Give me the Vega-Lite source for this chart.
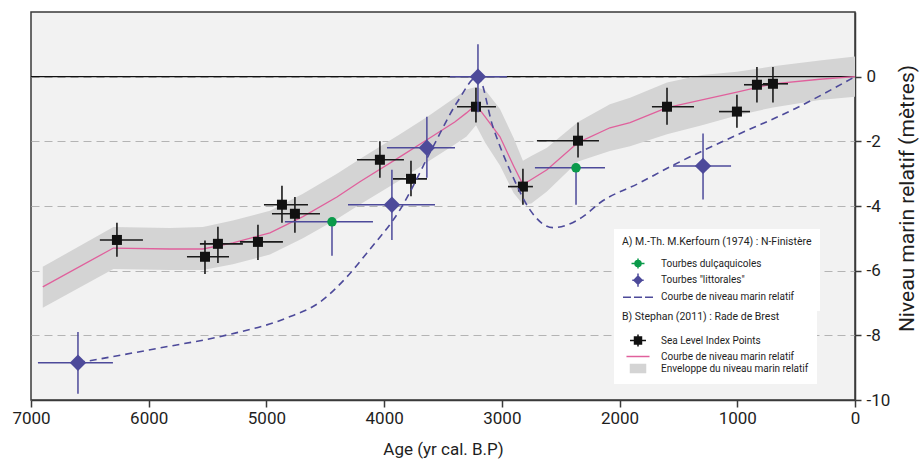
{
  "$schema": "https://vega.github.io/schema/vega-lite/v6.json",
  "width": 824,
  "height": 388,
  "autosize": {"type": "none"},
  "padding": {"left": 31, "top": 12, "right": 65, "bottom": 64},
  "background": "#ffffff",
  "config": {
    "font": "Roboto",
    "view": {"fill": "#f2f2f2", "stroke": "#3a3a3a", "strokeWidth": 1.5},
    "axis": {"labelFont": "Roboto", "titleFont": "Roboto", "labelFontSize": 17, "titleFontSize": 17, "titleFontWeight": "normal", "labelColor": "#1e1e1e", "titleColor": "#1e1e1e", "domainColor": "#3a3a3a", "domainWidth": 1.5, "tickColor": "#3a3a3a", "tickWidth": 1.5, "labelFlush": false, "labelOverlap": false},
    "legend": {"labelFont": "Roboto", "titleFont": "Roboto", "labelFontSize": 10, "titleFontSize": 10.5, "titleFontWeight": "normal", "labelColor": "#1e1e1e", "titleColor": "#1e1e1e", "fillColor": "#ffffff", "padding": 8, "titlePadding": 9, "titleLimit": 400, "labelLimit": 400, "symbolSize": 144, "symbolStrokeWidth": 1.5, "symbolOffset": 9, "labelOffset": 16, "rowPadding": -1.3, "orient": "none"}
  },
  "datasets": {
    "stephan": [
      {"age": 6900, "level": -6.5, "upper": -5.88, "lower": -7.15},
      {"age": 6300, "level": -5.3, "upper": -4.65, "lower": -5.95},
      {"age": 5820, "level": -5.33, "upper": -4.68, "lower": -5.98},
      {"age": 5540, "level": -5.33, "upper": -4.65, "lower": -5.98},
      {"age": 5285, "level": -5.14, "upper": -4.45, "lower": -5.8},
      {"age": 4970, "level": -4.83, "upper": -4.15, "lower": -5.5},
      {"age": 4690, "level": -4.33, "upper": -3.62, "lower": -5.0},
      {"age": 4401, "level": -3.72, "upper": -3.0, "lower": -4.4},
      {"age": 4206, "level": -3.25, "upper": -2.55, "lower": -3.95},
      {"age": 3866, "level": -2.48, "upper": -1.78, "lower": -3.2},
      {"age": 3636, "level": -1.95, "upper": -1.25, "lower": -2.65},
      {"age": 3400, "level": -1.4, "upper": -0.65, "lower": -2.1},
      {"age": 3300, "level": -1.12, "upper": -0.4, "lower": -1.85},
      {"age": 3220, "level": -0.87, "upper": -0.32, "lower": -1.5},
      {"age": 3140, "level": -1.25, "upper": -0.42, "lower": -2.05},
      {"age": 3016, "level": -1.86, "upper": -1.0, "lower": -2.75},
      {"age": 2900, "level": -2.76, "upper": -1.9, "lower": -3.6},
      {"age": 2821, "level": -3.34, "upper": -2.6, "lower": -3.95},
      {"age": 2750, "level": -3.18, "upper": -2.45, "lower": -3.92},
      {"age": 2617, "level": -2.88, "upper": -2.2, "lower": -3.55},
      {"age": 2353, "level": -2.04, "upper": -1.4, "lower": -2.62},
      {"age": 2082, "level": -1.58, "upper": -0.85, "lower": -2.3},
      {"age": 1911, "level": -1.42, "upper": -0.65, "lower": -2.15},
      {"age": 1597, "level": -0.96, "upper": -0.18, "lower": -1.78},
      {"age": 1300, "level": -0.72, "upper": 0.05, "lower": -1.5},
      {"age": 1003, "level": -0.48, "upper": 0.15, "lower": -1.2},
      {"age": 697, "level": -0.22, "upper": 0.32, "lower": -0.95},
      {"age": 300, "level": -0.08, "upper": 0.5, "lower": -0.72},
      {"age": 0, "level": 0, "upper": 0.62, "lower": -0.62}
    ],
    "kerfourn": [
      {"age": 6601, "level": -8.85},
      {"age": 5905, "level": -8.39},
      {"age": 5335, "level": -7.99},
      {"age": 4826, "level": -7.46},
      {"age": 4545, "level": -6.97},
      {"age": 4316, "level": -6.19},
      {"age": 4146, "level": -5.45},
      {"age": 3866, "level": -4.12},
      {"age": 3585, "level": -2.17},
      {"age": 3381, "level": -0.8},
      {"age": 3203, "level": 0},
      {"age": 3076, "level": -1.55},
      {"age": 2906, "level": -3.1},
      {"age": 2761, "level": -4.12},
      {"age": 2566, "level": -4.67},
      {"age": 2311, "level": -4.33},
      {"age": 2166, "level": -3.9},
      {"age": 1827, "level": -3.28},
      {"age": 1546, "level": -2.74},
      {"age": 1050, "level": -1.88},
      {"age": 510, "level": -0.99},
      {"age": 0, "level": 0}
    ],
    "slip": [
      {"age": 6270, "ageMin": 6415, "ageMax": 6049, "level": -5.05, "levelTop": -4.52, "levelBottom": -5.57},
      {"age": 5522, "ageMin": 5675, "ageMax": 5318, "level": -5.57, "levelTop": -5.07, "levelBottom": -6.1},
      {"age": 5412, "ageMin": 5565, "ageMax": 5200, "level": -5.17, "levelTop": -4.64, "levelBottom": -5.76},
      {"age": 5072, "ageMin": 5225, "ageMax": 4860, "level": -5.11, "levelTop": -4.58, "levelBottom": -5.67},
      {"age": 4868, "ageMin": 5021, "ageMax": 4647, "level": -3.96, "levelTop": -3.37, "levelBottom": -4.52},
      {"age": 4758, "ageMin": 4953, "ageMax": 4545, "level": -4.24, "levelTop": -3.72, "levelBottom": -4.83},
      {"age": 4036, "ageMin": 4231, "ageMax": 3832, "level": -2.57, "levelTop": -2.0, "levelBottom": -3.13},
      {"age": 3772, "ageMin": 3925, "ageMax": 3636, "level": -3.16, "levelTop": -2.6, "levelBottom": -3.7},
      {"age": 3220, "ageMin": 3381, "ageMax": 3050, "level": -0.93, "levelTop": -0.34, "levelBottom": -1.42},
      {"age": 2821, "ageMin": 2948, "ageMax": 2736, "level": -3.4, "levelTop": -2.85, "levelBottom": -3.96},
      {"age": 2353, "ageMin": 2702, "ageMax": 2175, "level": -1.98, "levelTop": -1.42, "levelBottom": -2.5},
      {"age": 1597, "ageMin": 1725, "ageMax": 1368, "level": -0.93, "levelTop": -0.34, "levelBottom": -1.49},
      {"age": 1003, "ageMin": 1155, "ageMax": 892, "level": -1.08, "levelTop": -0.56, "levelBottom": -1.58},
      {"age": 833, "ageMin": 943, "ageMax": 722, "level": -0.25, "levelTop": 0.3, "levelBottom": -0.8},
      {"age": 697, "ageMin": 782, "ageMax": 569, "level": -0.22, "levelTop": 0.3, "levelBottom": -0.8}
    ],
    "kpts": [
      {"type": "dulc", "age": 4443, "ageMin": 4843, "ageMax": 4095, "level": -4.49, "levelTop": -4.49, "levelBottom": -5.54},
      {"type": "dulc", "age": 2370, "ageMin": 2719, "ageMax": 2124, "level": -2.82, "levelTop": -2.82, "levelBottom": -3.96},
      {"type": "litt", "age": 6601, "ageMin": 6941, "ageMax": 6304, "level": -8.85, "levelTop": -7.9, "levelBottom": -9.81},
      {"type": "litt", "age": 3934, "ageMin": 4307, "ageMax": 3568, "level": -3.96, "levelTop": -2.88, "levelBottom": -5.05},
      {"type": "litt", "age": 3637, "ageMin": 3976, "ageMax": 3398, "level": -2.2, "levelTop": -1.24, "levelBottom": -3.13},
      {"type": "litt", "age": 3203, "ageMin": 3441, "ageMax": 2957, "level": 0, "levelTop": 1.0, "levelBottom": -1.1},
      {"type": "litt", "age": 1291, "ageMin": 1546, "ageMax": 1053, "level": -2.76, "levelTop": -1.76, "levelBottom": -3.8}
    ]
  },
  "layer": [
    {
      "layer": [
        {
          "data": {"name": "stephan"},
          "mark": {"type": "area", "opacity": 1},
          "encoding": {
            "x": {"field": "age", "type": "quantitative", "scale": {"domain": [0, 7000], "reverse": true, "nice": false, "zero": false},
              "axis": {"title": "Age (yr cal. B.P)", "values": [0, 1000, 2000, 3000, 4000, 5000, 6000, 7000], "labelExpr": "'' + datum.value", "tickSize": 7, "labelPadding": 3, "titlePadding": 15, "grid": false}},
            "y": {"field": "upper", "type": "quantitative", "scale": {"domain": [-10, 2], "nice": false, "zero": false},
              "axis": {"title": "Niveau marin relatif (mètres)", "orient": "right", "values": [0, -2, -4, -6, -8, -10], "labelExpr": "'' + datum.value", "tickSize": 6, "labelPadding": 5, "titlePadding": 7, "titleAngle": 270, "titleBaseline": "top", "titleFontSize": 21, "titleY": 186, "grid": true, "gridColor": "#b4b4b4", "gridDash": [8, 5], "gridWidth": 1.2, "labelAlign": "left"}},
            "y2": {"field": "lower"},
            "color": {"datum": "Enveloppe du niveau marin relatif", "type": "nominal",
              "scale": {"domain": ["Sea Level Index Points", "Courbe de niveau marin relatif", "Enveloppe du niveau marin relatif"], "range": ["#111111", "#e0609c", "#d4d4d4"]},
              "legend": {"title": "B) Stephan (2011) : Rade de Brest", "legendX": 583, "legendY": 292, "titlePadding": 11,
                "encode": {"symbols": {"update": {
                  "shape": {"signal": "datum.value === 'Sea Level Index Points' ? 'M-1.33,0H1.33M0,-1V1M-0.58,-0.58H0.58V0.58H-0.58Z' : datum.value === 'Courbe de niveau marin relatif' ? 'M-1.92,0H1.92' : 'M-1.25,-0.67H1.25V0.67H-1.25Z'"},
                  "size": {"value": 144},
                  "fill": {"signal": "datum.value === 'Sea Level Index Points' ? '#111111' : datum.value === 'Courbe de niveau marin relatif' ? 'transparent' : '#d4d4d4'"},
                  "stroke": {"signal": "datum.value === 'Sea Level Index Points' ? '#111111' : datum.value === 'Courbe de niveau marin relatif' ? '#e0609c' : 'transparent'"},
                  "strokeDash": {"value": []},
                  "opacity": {"value": 1}
                }}}}}
          }
        },
        {
          "data": {"values": [{}]},
          "mark": {"type": "rule", "color": "#111111", "strokeWidth": 1.3},
          "encoding": {"y": {"datum": 0, "type": "quantitative"}}
        },
        {
          "data": {"name": "stephan"},
          "mark": {"type": "line", "strokeWidth": 1.3},
          "encoding": {
            "x": {"field": "age", "type": "quantitative"},
            "y": {"field": "level", "type": "quantitative"},
            "color": {"datum": "Courbe de niveau marin relatif", "type": "nominal",
              "legend": {"title": "B) Stephan (2011) : Rade de Brest", "legendX": 583, "legendY": 292, "titlePadding": 11,
                "encode": {"symbols": {"update": {
                  "shape": {"signal": "datum.value === 'Sea Level Index Points' ? 'M-1.33,0H1.33M0,-1V1M-0.58,-0.58H0.58V0.58H-0.58Z' : datum.value === 'Courbe de niveau marin relatif' ? 'M-1.92,0H1.92' : 'M-1.25,-0.67H1.25V0.67H-1.25Z'"},
                  "size": {"value": 144},
                  "fill": {"signal": "datum.value === 'Sea Level Index Points' ? '#111111' : datum.value === 'Courbe de niveau marin relatif' ? 'transparent' : '#d4d4d4'"},
                  "stroke": {"signal": "datum.value === 'Sea Level Index Points' ? '#111111' : datum.value === 'Courbe de niveau marin relatif' ? '#e0609c' : 'transparent'"},
                  "strokeDash": {"value": []},
                  "opacity": {"value": 1}
                }}}}}
          }
        },
        {
          "data": {"name": "slip"},
          "mark": {"type": "rule", "color": "#1a1a1a", "strokeWidth": 1.6},
          "encoding": {
            "x": {"field": "ageMin", "type": "quantitative"},
            "x2": {"field": "ageMax"},
            "y": {"field": "level", "type": "quantitative"}
          }
        },
        {
          "data": {"name": "slip"},
          "mark": {"type": "rule", "color": "#1a1a1a", "strokeWidth": 1.6},
          "encoding": {
            "x": {"field": "age", "type": "quantitative"},
            "y": {"field": "levelTop", "type": "quantitative"},
            "y2": {"field": "levelBottom"}
          }
        },
        {
          "data": {"name": "slip"},
          "mark": {"type": "point", "shape": "square", "filled": true, "size": 100, "opacity": 1},
          "encoding": {
            "x": {"field": "age", "type": "quantitative"},
            "y": {"field": "level", "type": "quantitative"},
            "color": {"datum": "Sea Level Index Points", "type": "nominal",
              "legend": {"title": "B) Stephan (2011) : Rade de Brest", "legendX": 583, "legendY": 292, "titlePadding": 11,
                "encode": {"symbols": {"update": {
                  "shape": {"signal": "datum.value === 'Sea Level Index Points' ? 'M-1.33,0H1.33M0,-1V1M-0.58,-0.58H0.58V0.58H-0.58Z' : datum.value === 'Courbe de niveau marin relatif' ? 'M-1.92,0H1.92' : 'M-1.25,-0.67H1.25V0.67H-1.25Z'"},
                  "size": {"value": 144},
                  "fill": {"signal": "datum.value === 'Sea Level Index Points' ? '#111111' : datum.value === 'Courbe de niveau marin relatif' ? 'transparent' : '#d4d4d4'"},
                  "stroke": {"signal": "datum.value === 'Sea Level Index Points' ? '#111111' : datum.value === 'Courbe de niveau marin relatif' ? '#e0609c' : 'transparent'"},
                  "strokeDash": {"value": []},
                  "opacity": {"value": 1}
                }}}}}
          }
        }
      ]
    },
    {
      "layer": [
        {
          "data": {"name": "kerfourn"},
          "mark": {"type": "line", "strokeDash": [7, 5], "strokeWidth": 1.6, "interpolate": "monotone"},
          "encoding": {
            "x": {"field": "age", "type": "quantitative"},
            "y": {"field": "level", "type": "quantitative"},
            "color": {"datum": "Courbe de niveau marin relatif", "type": "nominal",
              "scale": {"domain": ["Tourbes dulçaquicoles", "Tourbes \"littorales\"", "Courbe de niveau marin relatif"], "range": ["#0a9a4a", "#4d4a9a", "#4d4a9a"]},
              "legend": {"title": "A) M.-Th. M.Kerfourn (1974) : N-Finistère", "legendX": 583, "legendY": 217,
                "encode": {"symbols": {"update": {
                  "shape": {"signal": "datum.value === 'Courbe de niveau marin relatif' ? 'M-2.5,0H-1.17M-0.67,0H0.67M1.17,0H2.5' : datum.value === 'Tourbes dulçaquicoles' ? 'M-1.08,0H1.08M0,-0.83V0.83M-0.5,0A0.5,0.5,0,1,1,0.5,0A0.5,0.5,0,1,1,-0.5,0Z' : 'M-0.95,0H0.95M0,-1.1V1.1M-0.67,0L0,-0.67L0.67,0L0,0.67Z'"},
                  "size": {"value": 144},
                  "fill": {"signal": "datum.value === 'Tourbes dulçaquicoles' ? '#0a9a4a' : datum.value === 'Courbe de niveau marin relatif' ? 'transparent' : '#4d4a9a'"},
                  "stroke": {"value": "#4d4a9a"},
                  "strokeDash": {"value": []},
                  "opacity": {"value": 1}
                }}}}}
          }
        },
        {
          "data": {"name": "kpts"},
          "mark": {"type": "rule", "color": "#4d4a9a", "strokeWidth": 1.5},
          "encoding": {
            "x": {"field": "ageMin", "type": "quantitative"},
            "x2": {"field": "ageMax"},
            "y": {"field": "level", "type": "quantitative"}
          }
        },
        {
          "data": {"name": "kpts"},
          "mark": {"type": "rule", "color": "#4d4a9a", "strokeWidth": 1.5},
          "encoding": {
            "x": {"field": "age", "type": "quantitative"},
            "y": {"field": "levelTop", "type": "quantitative"},
            "y2": {"field": "levelBottom"}
          }
        },
        {
          "data": {"name": "kpts"},
          "transform": [{"filter": "datum.type === 'dulc'"}],
          "mark": {"type": "point", "shape": "circle", "filled": true, "size": 90, "opacity": 1},
          "encoding": {
            "x": {"field": "age", "type": "quantitative"},
            "y": {"field": "level", "type": "quantitative"},
            "color": {"datum": "Tourbes dulçaquicoles", "type": "nominal"}
          }
        },
        {
          "data": {"name": "kpts"},
          "transform": [{"filter": "datum.type === 'litt'"}],
          "mark": {"type": "point", "shape": "diamond", "filled": true, "size": 270, "opacity": 1},
          "encoding": {
            "x": {"field": "age", "type": "quantitative"},
            "y": {"field": "level", "type": "quantitative"},
            "color": {"datum": "Tourbes \"littorales\"", "type": "nominal"}
          }
        }
      ]
    }
  ],
  "resolve": {"scale": {"color": "independent"}}
}
